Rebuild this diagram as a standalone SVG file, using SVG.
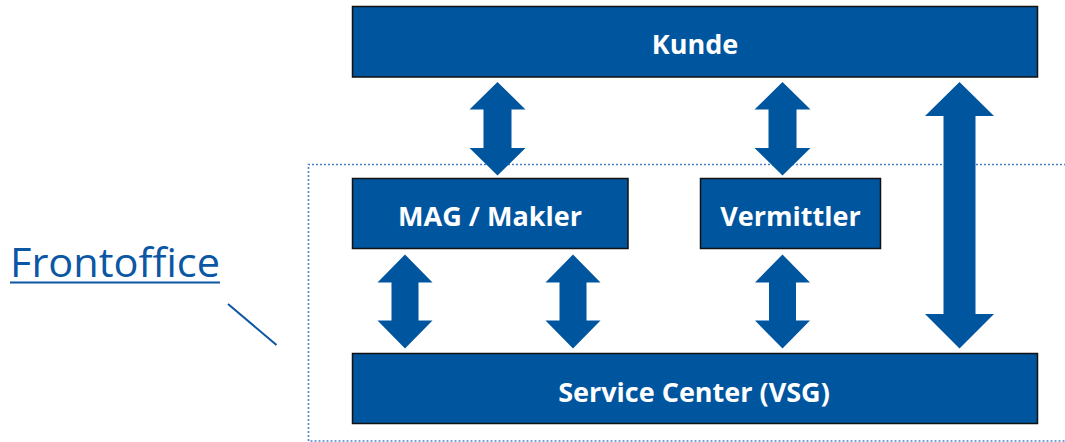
<svg xmlns="http://www.w3.org/2000/svg" width="1065" height="442" viewBox="0 0 1065 442">
<defs>
<style>
.box{fill:#00559F;stroke:#111;stroke-width:1.5}
.lbl{fill:#fff;font-family:"Open Sans","Liberation Sans",sans-serif;font-weight:bold;font-size:27px;text-anchor:middle}
.arr{fill:#00559F}
</style>
</defs>
<rect width="1065" height="442" fill="#fff"/>
<g id="frame">
<path d="M1066,164.5 H308.5 V441 H1066" fill="none" stroke="#4A7FCB" stroke-width="1.6" stroke-dasharray="2 2"/>
</g>
<g id="frontoffice">
<text x="10" y="276.5" font-family="'Open Sans','Liberation Sans',sans-serif" font-size="41" fill="#0B57A3" textLength="210" lengthAdjust="spacingAndGlyphs">Frontoffice</text>
<rect x="10" y="281.5" width="210" height="2" fill="#0B57A3"/>
<line x1="228" y1="304" x2="276.5" y2="345" stroke="#0B57A3" stroke-width="2"/>
</g>
<g id="connectors">
<path class="arr" d="M497.5,82 L525.5,109.5 H511.5 V148 H525.5 L497.5,175.5 L469.5,148 H483.5 V109.5 H469.5 Z"/>
<path class="arr" d="M782.5,82 L810.5,109.5 H796.5 V148 H810.5 L782.5,175.5 L754.5,148 H768.5 V109.5 H754.5 Z"/>
<path class="arr" d="M959.5,82 L994,116 H975.5 V314 H994 L959.5,348.5 L925,314 H943.5 V116 H925 Z"/>
<path class="arr" d="M405,254.5 L432.5,282.5 H418.5 V320.5 H432.5 L405,348.5 L377.5,320.5 H391.5 V282.5 H377.5 Z"/>
<path class="arr" d="M573,254.5 L600.5,282.5 H586.5 V320.5 H600.5 L573,348.5 L545.5,320.5 H559.5 V282.5 H545.5 Z"/>
<path class="arr" d="M782.5,254.5 L810,282.5 H796 V320.5 H810 L782.5,348.5 L755,320.5 H769 V282.5 H755 Z"/>
</g>
<g id="kunde">
<rect class="box" x="352.5" y="6.5" width="685" height="70.5"/>
<text class="lbl" x="695" y="54">Kunde</text>
</g>
<g id="mag">
<rect class="box" x="352.5" y="178.5" width="275.5" height="70"/>
<text class="lbl" x="490" y="226">MAG / Makler</text>
</g>
<g id="vermittler">
<rect class="box" x="700.5" y="178.5" width="180" height="70"/>
<text class="lbl" x="790.5" y="226">Vermittler</text>
</g>
<g id="service">
<rect class="box" x="352.5" y="353.5" width="685" height="70"/>
<text class="lbl" x="694" y="401.5">Service Center (VSG)</text>
</g>
</svg>
